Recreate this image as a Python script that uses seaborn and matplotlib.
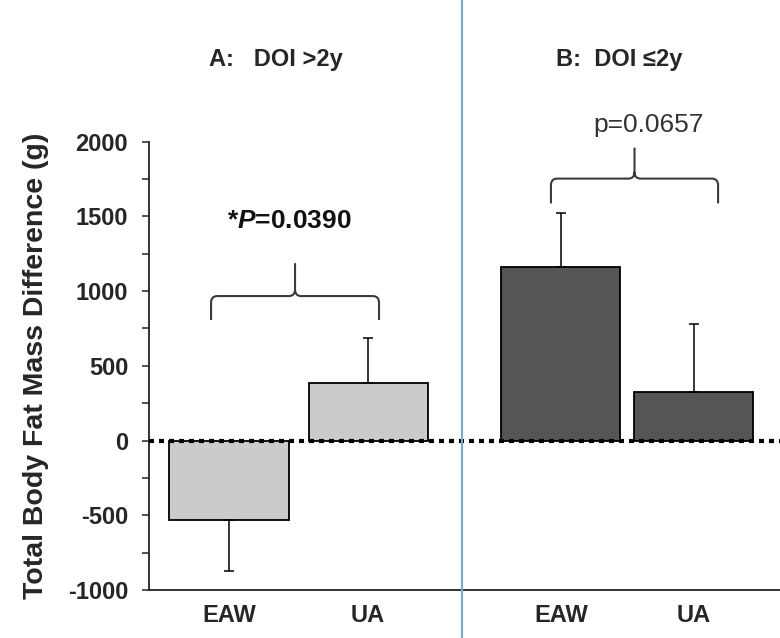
import matplotlib
matplotlib.use('Agg')
import numpy as np
import pandas as pd
import matplotlib.pyplot as plt
import seaborn as sns
from matplotlib.path import Path
from matplotlib.patches import PathPatch
from matplotlib.lines import Line2D
from matplotlib.ticker import MultipleLocator

# ---------------- data ----------------
groups = ['A', 'A', 'B', 'B']
categories = ['EAW', 'UA', 'EAW', 'UA']
values = [-530, 387, 1160, 327]
errors = [343, 300, 360, 453]
panel_titles = ['A:   DOI >2y', 'B:  DOI \u22642y']
p_labels = ['*$P$=0.0390', 'p=0.0657']
yticks = [-1000, -500, 0, 500, 1000, 1500, 2000]
ylabel = 'Total Body Fat Mass Difference (g)'

# ---------------- layout ----------------
positions = [0.0, 1.015, 2.423, 3.394]
group_colors = {'A': '#CBCBCB', 'B': '#555555'}

sns.set_style('ticks')
plt.rcParams['font.family'] = ['Liberation Sans', 'DejaVu Sans']
plt.rcParams['axes.unicode_minus'] = False
plt.rcParams['mathtext.fontset'] = 'custom'
plt.rcParams['mathtext.it'] = 'Liberation Sans:italic:bold'
plt.rcParams['mathtext.rm'] = 'Liberation Sans:bold'

fig = plt.figure(figsize=(7.8, 6.38), dpi=100)
ax = fig.add_axes([149 / 780, 48 / 638, 631 / 780, 448.3 / 638])

df = pd.DataFrame({'pos': positions, 'value': values, 'group': groups})
sns.barplot(data=df, x='pos', y='value', hue='group', palette=group_colors,
            native_scale=True, dodge=False, width=0.895, edgecolor='black',
            linewidth=1.3, errorbar=None, legend=False, saturation=1, ax=ax)

lower = [e if v < 0 else 0 for v, e in zip(values, errors)]
upper = [e if v >= 0 else 0 for v, e in zip(values, errors)]
ax.errorbar(positions, values, yerr=[lower, upper], fmt='none', ecolor='black',
            elinewidth=1.1, capsize=3.5, capthick=1.1, zorder=4)

ax.axhline(0, color='black', lw=3.0, linestyle=(0, (1.2, 1.2)), zorder=6)

ax.set_xlim(-0.584, 4.022)
ax.set_ylim(-1000, 2000)
ax.set_yticks(yticks)
ax.yaxis.set_minor_locator(MultipleLocator(250))
ax.tick_params(axis='y', which='both', direction='out', length=5, width=1.2,
               color='#333333', labelsize=17, pad=10)
ax.set_xticks(positions)
ax.set_xticklabels(categories)
ax.tick_params(axis='x', length=0, pad=10, labelsize=17)
for lbl in ax.get_xticklabels() + ax.get_yticklabels():
    lbl.set_fontweight('bold')
ax.set_xlabel('')
ax.set_ylabel(ylabel, fontsize=20.5, fontweight='bold')
ax.yaxis.set_label_coords(-0.158, 0.5)

for s in ['top', 'right']:
    ax.spines[s].set_visible(False)
for s in ['left', 'bottom']:
    ax.spines[s].set_linewidth(1.3)
    ax.spines[s].set_color('#222222')

# panel titles
ax.text(0.343, 2553, panel_titles[0], ha='center', va='center', fontsize=17,
        fontweight='bold', clip_on=False)
ax.text(2.85, 2553, panel_titles[1], ha='center', va='center', fontsize=17,
        fontweight='bold', clip_on=False)


def brace(ax, x0, x1, y_end, y_h, y_peak, rx=0.045, ry=45, color='#3a3a3a'):
    xc = (x0 + x1) / 2
    verts = [(x0, y_end), (x0, y_h - ry), (x0, y_h), (x0 + rx, y_h),
             (xc - rx, y_h), (xc, y_h), (xc, y_h + ry), (xc, y_peak),
             (xc, y_h + ry), (xc, y_h), (xc + rx, y_h),
             (x1 - rx, y_h), (x1, y_h), (x1, y_h - ry), (x1, y_end)]
    codes = [Path.MOVETO, Path.LINETO, Path.CURVE3, Path.CURVE3,
             Path.LINETO, Path.CURVE3, Path.CURVE3, Path.LINETO,
             Path.MOVETO, Path.CURVE3, Path.CURVE3,
             Path.LINETO, Path.CURVE3, Path.CURVE3, Path.LINETO]
    ax.add_patch(PathPatch(Path(verts, codes), fill=False, edgecolor=color,
                           lw=1.5, clip_on=False, zorder=5))


brace(ax, -0.131, 1.095, 807, 967, 1187)
brace(ax, 2.35, 3.57, 1587, 1753, 1960)

ax.text(0.438, 1467, p_labels[0], ha='center', va='center', fontsize=19,
        fontweight='bold', color='#111111')
ax.text(3.06, 2113, p_labels[1], ha='center', va='center', fontsize=19,
        color='#333333', clip_on=False)

fig.add_artist(Line2D([462 / 780, 462 / 780], [0, 1], transform=fig.transFigure,
                      color='#74A9DE', lw=1.5))

fig.savefig('out.png', dpi=100)
